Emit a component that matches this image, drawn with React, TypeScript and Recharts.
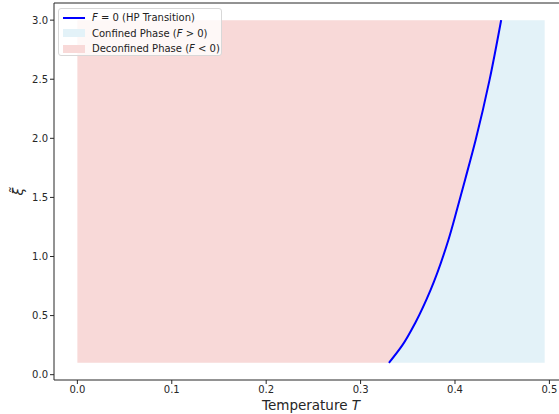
import {
  ComposedChart,
  Area,
  Line,
  XAxis,
  YAxis,
  ReferenceLine,
} from "recharts";

// transition curve F = 0
const xiValues = [0.1, 0.25, 0.44, 0.72, 1.14, 1.4, 1.65, 1.99, 2.49, 3.0];
const transitionT = [0.33, 0.3443, 0.358, 0.3743, 0.393, 0.4022, 0.4107, 0.422, 0.4365, 0.4489];
const tMax = 0.495;

const xTicks = [0, 0.1, 0.2, 0.3, 0.4, 0.5];
const yTicks = [0, 0.5, 1.0, 1.5, 2.0, 2.5, 3.0];

const data = xiValues.map((xi, i) => ({
  xi,
  T: transitionT[i],
  deconfined: transitionT[i],
  confined: tMax - transitionT[i],
}));

const FONT = "DejaVu Sans, sans-serif";
const PINK = "#f8d9d8";
const BLUE = "#e3f2f8";
const AXIS = "#262626";

function XLabel({ viewBox }: any) {
  const cx = viewBox.x + viewBox.width / 2;
  return (
    <text
      x={cx}
      y={410}
      textAnchor="middle"
      fill={AXIS}
      fontSize={13.5}
      fontFamily={FONT}
    >
      Temperature <tspan fontStyle="italic">T</tspan>
    </text>
  );
}

function YLabel({ viewBox }: any) {
  const cy = viewBox.y + viewBox.height / 2;
  return (
    <text
      x={18}
      y={cy}
      transform={`rotate(-90 18 ${cy})`}
      textAnchor="middle"
      dominantBaseline="central"
      fill={AXIS}
      fontSize={14}
      fontFamily={FONT}
      fontStyle="italic"
    >
      ξ̃
    </text>
  );
}

function LegendBox() {
  const row = { display: "flex", alignItems: "center", height: 15.5 };
  const swatch = { width: 22, height: 8, marginRight: 7 };
  return (
    <div
      style={{
        position: "absolute",
        left: 58,
        top: 8,
        width: 164,
        height: 48,
        boxSizing: "border-box",
        padding: "1px 0 0 4px",
        background: "rgba(255,255,255,0.8)",
        border: "1px solid #d8d8d8",
        borderRadius: 3,
        fontFamily: FONT,
        fontSize: 10,
        color: "#222",
      }}
    >
      <div style={row}>
        <div style={{ width: 22, height: 2, background: "#0000ff", marginRight: 7 }} />
        <span>
          <i>F</i> = 0 (HP Transition)
        </span>
      </div>
      <div style={row}>
        <div style={{ ...swatch, background: BLUE }} />
        <span>
          Confined Phase (<i>F</i> &gt; 0)
        </span>
      </div>
      <div style={row}>
        <div style={{ ...swatch, background: PINK }} />
        <span>
          Deconfined Phase (<i>F</i> &lt; 0)
        </span>
      </div>
    </div>
  );
}

export default function App() {
  return (
    <div
      style={{
        position: "absolute",
        left: 0,
        top: 0,
        width: 559,
        height: 414,
        overflow: "hidden",
        background: "#fff",
      }}
    >
      <ComposedChart
        width={568}
        height={414}
        data={data}
        layout="vertical"
        margin={{ top: 3, right: 0, bottom: 0, left: 0 }}
      >
        <XAxis
          type="number"
          dataKey="T"
          domain={[-0.02475, 0.5197]}
          ticks={xTicks}
          tickFormatter={(v) => Number(v).toFixed(1)}
          allowDataOverflow
          height={34}
          tickSize={4}
          stroke={AXIS}
          tick={{ fill: AXIS, fontSize: 10, fontFamily: FONT }}
          label={<XLabel />}
        />
        <YAxis
          type="number"
          dataKey="xi"
          domain={[-0.045, 3.145]}
          ticks={yTicks}
          tickFormatter={(v) => Number(v).toFixed(1)}
          allowDataOverflow
          reversed
          width={54}
          tickSize={4}
          stroke={AXIS}
          tick={{ fill: AXIS, fontSize: 10, fontFamily: FONT }}
          label={<YLabel />}
        />
        <ReferenceLine y={3.145} stroke={AXIS} strokeWidth={1} />
        <Area
          type="monotone"
          dataKey="deconfined"
          stackId="phase"
          fill={PINK}
          fillOpacity={1}
          stroke="none"
          isAnimationActive={false}
        />
        <Area
          type="monotone"
          dataKey="confined"
          stackId="phase"
          fill={BLUE}
          fillOpacity={1}
          stroke="none"
          isAnimationActive={false}
        />
        <Line
          type="monotone"
          dataKey="T"
          stroke="#0000ff"
          strokeWidth={2}
          dot={false}
          isAnimationActive={false}
        />
      </ComposedChart>
      <LegendBox />
    </div>
  );
}
